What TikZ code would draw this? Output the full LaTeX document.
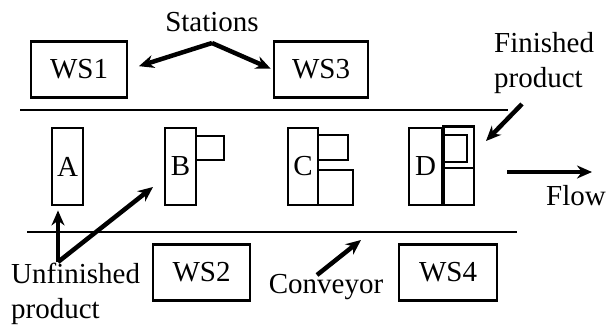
\documentclass[tikz,border=0pt]{standalone}
\usepackage{fontspec}
\setmainfont{Liberation Serif}
\usetikzlibrary{arrows.meta,positioning}

\begin{document}
\begin{tikzpicture}[
  x=1pt, y=-1pt,
  >={Stealth[length=15pt,width=13pt]},
  every node/.style={font=\fontsize{29}{35}\selectfont, inner sep=0pt},
  ws/.style={draw, line width=2.9pt, minimum height=56pt},
  part/.style={draw, line width=2.9pt, minimum height=77pt},
  sub/.style={line width=2.9pt},
  belt/.style={line width=2.9pt},
  arr/.style={->, line width=4.5pt},
]
\useasboundingbox (0,0) rectangle (610,330);

%% work stations
\node[ws, minimum width=96pt] (ws1) at (79,69.5) {WS1};
\node[ws, minimum width=94pt] (ws3) at (321,69.5) {WS3};
\node[ws, minimum width=97pt] (ws2) at (201.5,272.5) {WS2};
\node[ws, minimum width=98pt] (ws4) at (448,272.5) {WS4};

%% conveyor edges
\draw[belt] (20,110) -- (508,110);
\draw[belt] (27,232) -- (517,232);

%% parts A to D on the belt
\node[part, minimum width=31pt] (pa) at (67.5,166.5) {A};
\node[part, minimum width=31pt] (pb) at (180.5,166.5) {B};
\node[part, minimum width=30pt] (pc) at (303,166.5) {C};
\node[part, minimum width=33pt] (pd) at (425.5,166.5) {D};
\draw[sub] (196,136) rectangle (224,160);
\draw[sub] (318,135) rectangle (348,160);
\draw[sub] (318,170) rectangle (353,205);
\draw[sub] (pd.north east) rectangle (474,205);
\draw[sub] (442,168) -- (474,168);
\draw[sub] (442,135) rectangle (467,162);

%% labels
\node (stations) at (212,22) {Stations};
\node[align=left, anchor=west] (fin) at (494,63) {Finished\\product};
\node (flow) at (576,196) {Flow};
\node[align=left, anchor=west] (unfin) at (11,294) {Unfinished\\product};
\node (conv) at (326,287) {Conveyor};

%% pointers
\coordinate (apex) at (212,43);
\draw[arr, shorten >=11pt] (apex) -- (ws1.east);
\draw[arr, shorten >=2pt] (apex) -- (ws3.west);

\coordinate (fintail) at (522,104);
\coordinate (finhead) at (486,141);
\draw[arr] (fintail) -- (finhead);

\coordinate (flowtail) at (507,172);
\coordinate (flowhead) at (592,172);
\draw[arr] (flowtail) -- (flowhead);

\coordinate (unf) at (58,262);
\coordinate (unfb) at (153,187);
\draw[arr, shorten >=4pt] (unf) -- (unf |- pa.south);
\draw[arr] (unf) -- (unfb);

\coordinate (convtail) at (317,275);
\coordinate (convhead) at (361,240);
\draw[arr] (convtail) -- (convhead);
\end{tikzpicture}
\end{document}
